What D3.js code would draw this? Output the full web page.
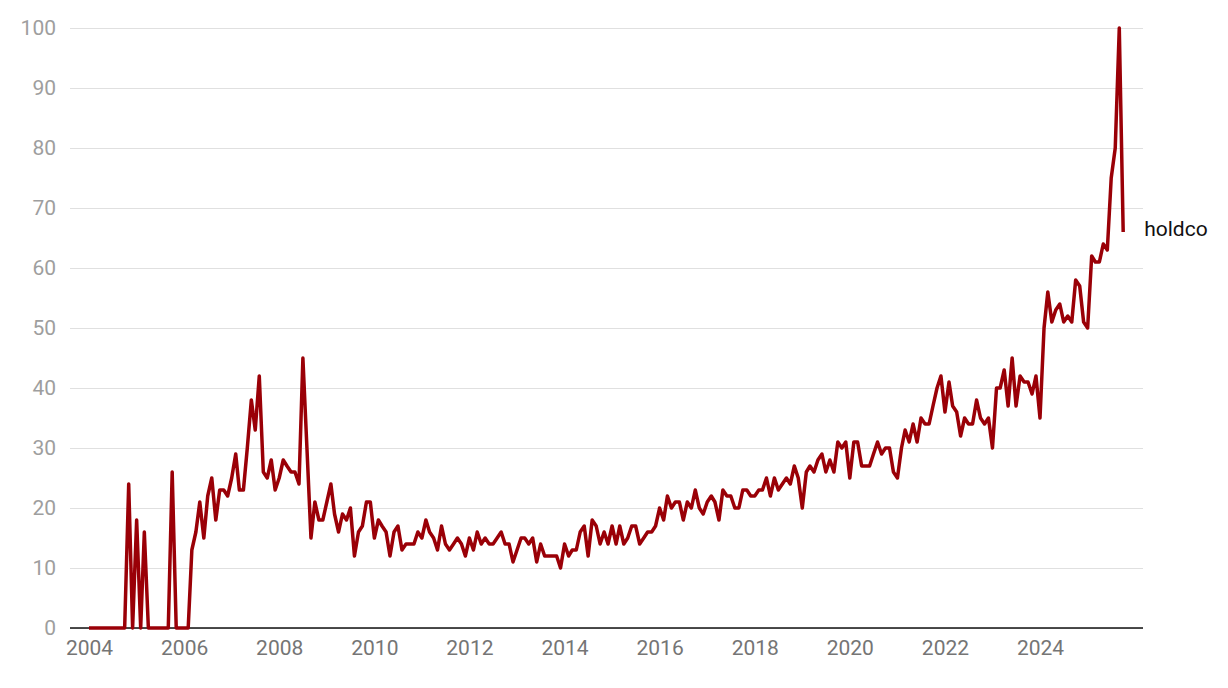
<!DOCTYPE html>
<html><head><meta charset="utf-8">
<script src="https://cdn.jsdelivr.net/npm/d3@7"></script>
<style>body{margin:0;background:#fff}</style>
</head><body>
<svg id="c" width="1228" height="688"></svg>
<script>
const seriesName = "holdco";
const startMonth = "2004-01";
const values = [
0,0,0,0,0,0,0,0,0,0,24,0,
18,0,16,0,0,0,0,0,0,26,0,0,
0,0,13,16,21,15,22,25,18,23,23,22,
25,29,23,23,30,38,33,42,26,25,28,23,
25,28,27,26,26,24,45,30,
15,21,18,18,21,24,19,16,19,18,20,12,16,17,21,21,15,18,17,16,12,16,17,13,14,14,14,16,15,18,16,15,13,17,14,13,14,15,14,12,15,13,16,14,15,14,14,15,16,14,14,11,13,15,15,14,15,11,14,12,12,12,12,
10,14,12,13,13,16,17,12,18,17,14,16,14,17,14,17,14,15,17,17,14,15,16,16,17,20,18,22,20,21,21,18,21,20,23,20,19,21,22,21,18,23,22,22,20,20,23,23,22,22,23,23,25,22,25,23,24,25,24,27,25,20,26,27,26,28,29,26,28,26,31,30,31,25,
31,31,27,27,27,29,31,29,30,30,26,25,30,33,31,34,31,35,34,34,37,40,42,36,41,37,36,32,35,34,34,38,35,34,35,30,40,40,43,37,45,37,42,41,41,39,42,
35,50,56,51,53,54,51,52,51,58,57,51,50,62,61,61,64,63,75,80,100,66
];
const yTicks = [0,10,20,30,40,50,60,70,80,90,100];
const xTickYears = [2004,2006,2008,2010,2012,2014,2016,2018,2020,2022,2024];

const parse = d3.timeParse("%Y-%m");
const t0 = parse(startMonth);
const data = values.map((v,i)=>({date: d3.timeMonth.offset(t0,i), v}));

const svg = d3.select("#c");
const x = d3.scaleTime().domain([new Date(2004,0,1), new Date(2024,0,1)]).range([89,1040]);
const y = d3.scaleLinear().domain([0,100]).range([628,28]);
const left = 70, right = 1143;
const font = "Roboto, 'Noto Sans', sans-serif";

const yAxis = svg.append("g").attr("transform",`translate(${left},0)`)
  .call(d3.axisLeft(y).tickValues(yTicks).tickSize(-(right-left)).tickPadding(14));
yAxis.select(".domain").remove();
yAxis.selectAll("line").attr("stroke","#e0e0e0").attr("stroke-width",1.2);
yAxis.selectAll("text").attr("fill","#9e9e9e").style("font-family",font).style("font-size","21px");

svg.append("line").attr("x1",left).attr("x2",right).attr("y1",y(0)).attr("y2",y(0))
  .attr("stroke","#111").attr("stroke-width",1.5);

const xAxis = svg.append("g").attr("transform",`translate(0,${y(0)})`)
  .call(d3.axisBottom(x).tickValues(xTickYears.map(yr=>new Date(yr,0,1))).tickFormat(d3.timeFormat("%Y")).tickSize(0).tickPadding(12));
xAxis.select(".domain").remove();
xAxis.selectAll("text").attr("fill","#757575").style("font-family",font).style("font-size","21px");

svg.append("path").datum(data)
  .attr("d", d3.line().x(d=>x(d.date)).y(d=>y(d.v)))
  .attr("fill","none").attr("stroke","#9a0007").attr("stroke-width",3.5).attr("stroke-linejoin","round");

const last = data[data.length-1];
svg.append("text").attr("x", x(last.date)+21).attr("y", y(last.v)-2)
  .attr("dominant-baseline","middle").attr("fill","#111")
  .style("font-family",font).style("font-size","21px").text(seriesName);
</script>
</body></html>
